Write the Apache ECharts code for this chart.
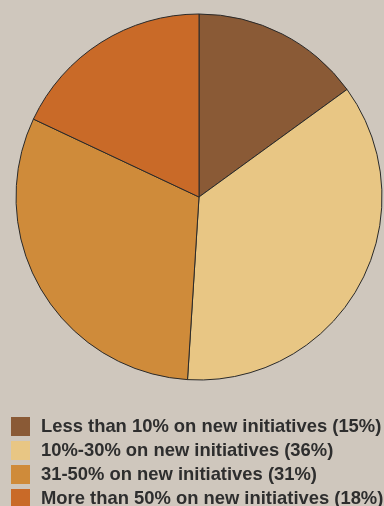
<!DOCTYPE html>
<html><head><meta charset="utf-8">
<script src="https://cdn.jsdelivr.net/npm/echarts@6/dist/echarts.min.js"></script>
<style>html,body{margin:0;padding:0;background:#cfc7bd;}#c{width:384px;height:506px;}</style>
</head><body><div id="c"></div>
<script>
var categories = [
  "Less than 10% on new initiatives (15%)",
  "10%-30% on new initiatives (36%)",
  "31-50% on new initiatives (31%)",
  "More than 50% on new initiatives (18%)"
];
var values = [15, 36, 31, 18];
var colors = ["#8a5a36", "#e8c684", "#cf8b3a", "#c96a28"];

var chart = echarts.init(document.getElementById('c'));
chart.setOption({
  backgroundColor: '#cfc7bd',
  animation: false,
  color: colors,
  legend: {
    orient: 'vertical',
    left: 6,
    top: 412,
    width: 380,
    height: 200,
    itemWidth: 19,
    itemHeight: 19,
    itemGap: 5,
    icon: 'rect',
    itemStyle: { borderWidth: 0 },
    textStyle: { fontFamily: 'Liberation Sans, Arial, sans-serif', fontSize: 18.4, fontWeight: 'bold', lineHeight: 19, color: '#2e2e2e', padding: [0,0,0,6] },
    data: categories
  },
  series: [{
    type: 'pie',
    center: [199, 197],
    radius: [0, 183],
    startAngle: 90,
    clockwise: true,
    label: { show: false },
    labelLine: { show: false },
    itemStyle: { borderColor: '#2a2a2a', borderWidth: 1 },
    emphasis: { disabled: true },
    data: categories.map(function (c, i) { return { name: c, value: values[i] }; })
  }]
});
</script></body></html>
